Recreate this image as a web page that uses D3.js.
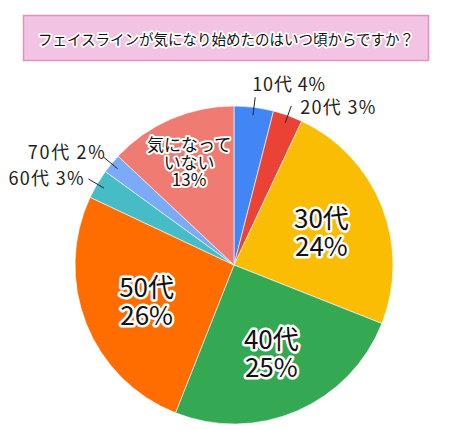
<!DOCTYPE html>
<html>
<head>
<meta charset="utf-8">
<script src="https://cdn.jsdelivr.net/npm/d3@7"></script>
<style>
  html, body { margin: 0; padding: 0; background: #fff; }
  svg { display: block; }
  text { font-family: "Noto Sans CJK JP", "Noto Sans", sans-serif; }
</style>
</head>
<body>
<script>
// ---- data ----
const title = "フェイスラインが気になり始めたのはいつ頃からですか？";
const categories = ["10代", "20代", "30代", "40代", "50代", "60代", "70代", "気になっていない"];
const values = [4, 3, 24, 25, 26, 3, 2, 13];
const colors = ["#4285f4", "#ea4335", "#fbbc04", "#34a853", "#ff6d01", "#46bdc6", "#7baaf7", "#f07b72"];

// ---- layout ----
const W = 452, H = 431;
const cx = 234, cy = 265, R = 159;

const svg = d3.select("body").append("svg").attr("width", W).attr("height", H);

// title box
svg.append("rect")
  .attr("x", 23.5).attr("y", 15.5).attr("width", 405).attr("height", 45)
  .attr("fill", "#f2c3e3").attr("stroke", "#e88fba").attr("stroke-width", 1.5);
svg.append("text")
  .attr("x", 226).attr("y", 38.5)
  .attr("text-anchor", "middle").attr("dominant-baseline", "central")
  .attr("font-size", 14.5)
  .attr("fill", "#111").attr("stroke", "#fff").attr("stroke-width", 3.5)
  .attr("stroke-linejoin", "round").attr("paint-order", "stroke")
  .text(title);

const data = categories.map((c, i) => ({ cat: c, value: values[i], color: colors[i] }));
const pie = d3.pie().sort(null).value(d => d.value).startAngle(0).endAngle(2 * Math.PI);
const arcs = pie(data);
const arc = d3.arc().innerRadius(0).outerRadius(R);

const g = svg.append("g").attr("transform", `translate(${cx},${cy})`);
g.selectAll("path.slice").data(arcs).join("path")
  .attr("class", "slice")
  .attr("d", arc)
  .attr("fill", d => d.data.color)
  .attr("stroke", "#fff").attr("stroke-width", 0.6);

const total = d3.sum(values);
const pct = v => Math.round(v / total * 100) + "%";
const mid = d => (d.startAngle + d.endAngle) / 2;
const pt = (a, r) => [r * Math.sin(a), -r * Math.cos(a)];

// inside labels
const inside = {
  "30代": { r: 94, size: 26, lh: 28, lines: d => [d.data.cat, pct(d.data.value)] },
  "40代": { r: 94, size: 26, lh: 28, lines: d => [d.data.cat, pct(d.data.value)] },
  "50代": { r: 94, size: 26, lh: 28, lines: d => [d.data.cat, pct(d.data.value)] },
  "気になっていない": { r: 113, size: 17, lh: 17.5, lines: d => ["気になって", "いない", pct(d.data.value)] }
};
arcs.filter(d => inside[d.data.cat]).forEach(d => {
  const s = inside[d.data.cat];
  const [x, y] = pt(mid(d), s.r);
  const lines = s.lines(d);
  const t = g.append("text")
    .attr("text-anchor", "middle")
    .attr("font-size", s.size)
    .attr("fill", "#111").attr("stroke", "#fff").attr("stroke-width", s.size > 20 ? 5 : 4)
    .attr("stroke-linejoin", "round").attr("paint-order", "stroke");
  lines.forEach((ln, i) => {
    t.append("tspan")
      .attr("x", x)
      .attr("y", y + (i - (lines.length - 1) / 2) * s.lh)
      .attr("dominant-baseline", "central")
      .text(ln);
  });
});

// outside labels with leader lines
const outside = {
  "10代": { anchor: "start", dx: -3, dy: -14, w: 73 },
  "20代": { anchor: "start", dx: 9, dy: 0, w: 75 },
  "60代": { anchor: "end", dx: -5, dy: -2, w: 75 },
  "70代": { anchor: "end", dx: 1, dy: -6, w: 77 }
};
arcs.filter(d => outside[d.data.cat]).forEach(d => {
  const o = outside[d.data.cat];
  const a = mid(d);
  const p1 = pt(a, 151), p2 = pt(a, 169);
  g.append("line")
    .attr("x1", p1[0]).attr("y1", p1[1]).attr("x2", p2[0]).attr("y2", p2[1])
    .attr("stroke", "#222").attr("stroke-width", 1);
  g.append("text")
    .attr("x", p2[0] + o.dx).attr("y", p2[1] + o.dy)
    .attr("text-anchor", o.anchor).attr("dominant-baseline", "central")
    .attr("font-size", 18).attr("fill", "#222")
    .attr("textLength", o.w).attr("lengthAdjust", "spacing")
    .text(d.data.cat + " " + pct(d.data.value));
});
</script>
</body>
</html>
